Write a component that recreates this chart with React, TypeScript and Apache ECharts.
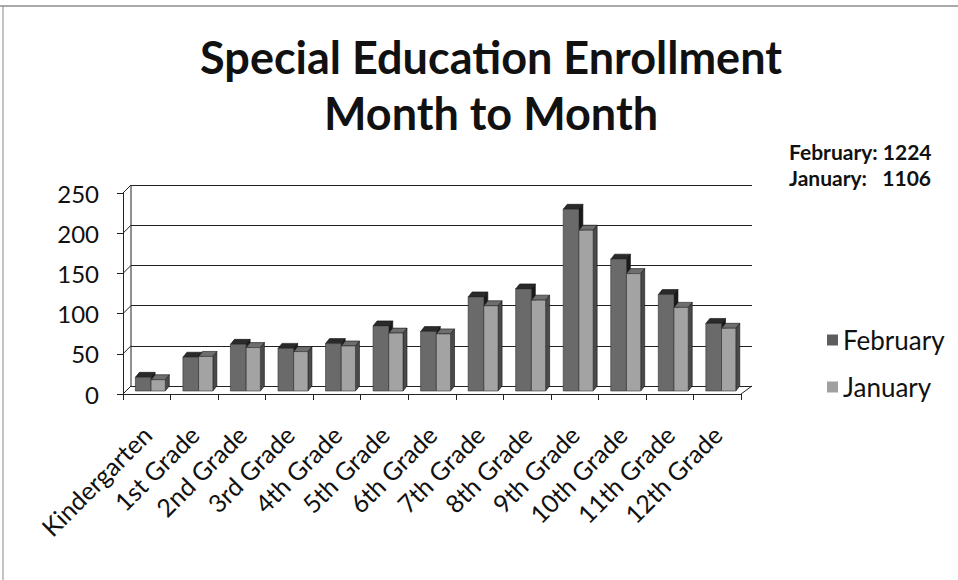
import React, { useEffect, useRef } from "react";
import * as echarts from "echarts";

const categories = [
  "Kindergarten", "1st Grade", "2nd Grade", "3rd Grade", "4th Grade", "5th Grade",
  "6th Grade", "7th Grade", "8th Grade", "9th Grade", "10th Grade", "11th Grade", "12th Grade",
];
const february = [17, 42, 58, 53, 59, 81, 74, 117, 127, 226, 164, 120, 84];
const january = [14, 43, 54, 49, 56, 72, 71, 106, 113, 200, 146, 104, 78];
const yTicks = [0, 50, 100, 150, 200, 250];
const totalsText = ["February: 1224", "January:   1106"];

const FONT = "Lato, 'Open Sans', sans-serif";

function bar3d(offsetFrac: number, widthFrac: number, front: string, top: string, side: string) {
  return (params: any, api: any) => {
    const idx = api.value(0);
    const val = api.value(1);
    const band = api.size([1, 0])[0];
    const c = api.coord([idx, 0]);
    const t = api.coord([idx, val]);
    const w = band * widthFrac;
    const x0 = c[0] + band * offsetFrac;
    const yb = c[1] - 3;
    const yt = t[1] - 3;
    const dx = 4;
    const dy = 5;
    return {
      type: "group",
      children: [
        {
          type: "polygon",
          shape: { points: [[x0 + w, yb], [x0 + w + dx, yb - dy], [x0 + w + dx, yt - dy], [x0 + w, yt]] },
          style: { fill: side, stroke: "#111", lineWidth: 0.6 },
        },
        {
          type: "polygon",
          shape: { points: [[x0, yt], [x0 + dx, yt - dy], [x0 + w + dx, yt - dy], [x0 + w, yt]] },
          style: { fill: top, stroke: "#111", lineWidth: 0.6 },
        },
        {
          type: "rect",
          shape: { x: x0, y: yt, width: w, height: yb - yt },
          style: { fill: front, stroke: "#333", lineWidth: 0.6 },
        },
      ],
    };
  };
}

export default function App() {
  const ref = useRef<HTMLDivElement>(null);
  useEffect(() => {
    document.body.style.margin = "0";
    const chart = echarts.init(ref.current!, null, { renderer: "svg" });
    const febData = february.map((v, i) => [i, v]);
    const janData = january.map((v, i) => [i, v]);
    chart.setOption({
      animation: false,
      backgroundColor: "#ffffff",
      textStyle: { fontFamily: FONT },
      title: {
        text: "Special Education Enrollment\nMonth to Month",
        left: 486,
        top: 24,
        textAlign: "center",
        textStyle: { fontFamily: FONT, fontWeight: "bold", fontSize: 45, lineHeight: 56, color: "#111" },
      },
      legend: {
        data: ["February", "January"],
        orient: "vertical",
        left: 822,
        top: 322,
        icon: "rect",
        itemWidth: 11,
        itemHeight: 11,
        itemGap: 21,
        textStyle: { fontFamily: FONT, fontSize: 26, color: "#111" },
      },
      graphic: [
        { type: "line", shape: { x1: 0, y1: 6, x2: 958, y2: 6 }, style: { stroke: "#555", lineWidth: 1 } },
        { type: "line", shape: { x1: 3, y1: 6, x2: 3, y2: 580 }, style: { stroke: "#888", lineWidth: 1 } },
        {
          type: "text",
          left: 789,
          top: 138,
          style: {
            text: totalsText.join("\n"),
            font: `bold 21px ${FONT}`,
            lineHeight: 26,
            fill: "#111",
          },
        },
        ...yTicks.map((_, i) => ({
          type: "line",
          shape: { x1: 123, y1: 394 - i * 40.2, x2: 131, y2: 386 - i * 40.2 },
          style: { stroke: "#222", lineWidth: 1 },
        })),
        { type: "line", shape: { x1: 131, y1: 386, x2: 131, y2: 185 }, style: { stroke: "#222", lineWidth: 1 } },
        { type: "line", shape: { x1: 741, y1: 394, x2: 752, y2: 386 }, style: { stroke: "#222", lineWidth: 1 } },
      ],
      grid: [
        { left: 123, right: 217, top: 193, bottom: 186 },
        { left: 131, right: 206, top: 185, bottom: 194 },
      ],
      xAxis: [
        {
          type: "category",
          gridIndex: 0,
          data: categories,
          boundaryGap: true,
          axisLine: { show: true, lineStyle: { color: "#222", width: 1 } },
          axisTick: { show: true, length: 6, lineStyle: { color: "#222" } },
          axisLabel: { rotate: 45, fontSize: 25, color: "#111", margin: 36, interval: 0, fontFamily: FONT },
        },
        {
          type: "category",
          gridIndex: 1,
          data: categories,
          axisLine: { show: false },
          axisTick: { show: false },
          axisLabel: { show: false },
        },
      ],
      yAxis: [
        {
          type: "value",
          gridIndex: 0,
          min: 0,
          max: 250,
          interval: 50,
          axisLine: { show: true, lineStyle: { color: "#222", width: 1 } },
          axisTick: { show: true, length: 6, lineStyle: { color: "#222" } },
          splitLine: { show: false },
          axisLabel: { fontSize: 24, color: "#111", margin: 24, fontFamily: FONT },
        },
        {
          type: "value",
          gridIndex: 1,
          min: 0,
          max: 250,
          interval: 50,
          axisLine: { show: false },
          axisTick: { show: false },
          axisLabel: { show: false },
          splitLine: { show: true, lineStyle: { color: "#222", width: 1.2 } },
        },
      ],
      series: [
        {
          name: "February",
          type: "custom",
          xAxisIndex: 0,
          yAxisIndex: 0,
          itemStyle: { color: "#5e5e5e" },
          renderItem: bar3d(-0.24, 0.33, "#6a6a6a", "#2a2a2a", "#1a1a1a"),
          data: febData,
          z: 3,
        },
        {
          name: "January",
          type: "custom",
          xAxisIndex: 0,
          yAxisIndex: 0,
          itemStyle: { color: "#a0a0a0" },
          renderItem: bar3d(0.09, 0.3, "#a3a3a3", "#6e6e6e", "#4a4a4a"),
          data: janData,
          z: 4,
        },
      ],
    });
    return () => chart.dispose();
  }, []);
  return <div ref={ref} style={{ width: 958, height: 580 }} />;
}
